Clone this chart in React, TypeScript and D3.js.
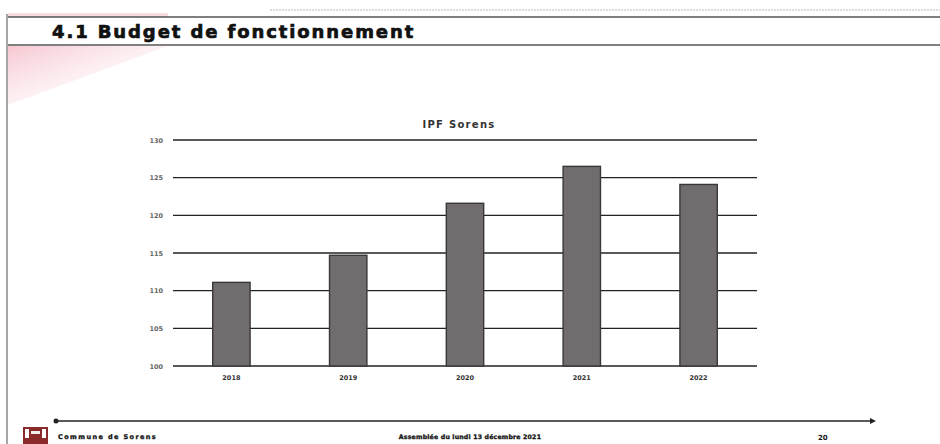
import React from "react";
import { scaleBand, scaleLinear } from "d3";

const years = ["2018", "2019", "2020", "2021", "2022"];
const ipfValues = [111.1, 114.7, 121.6, 126.5, 124.1];
const yTicks = [100, 105, 110, 115, 120, 125, 130];

const chartTitle = "IPF Sorens";
const pageTitle = "4.1 Budget de fonctionnement";
const footerLeft = "Commune de Sorens";
const footerMid = "Assemblée du lundi 13 décembre 2021";
const pageNumber = "20";

export default function App(): JSX.Element {
    const width = 940;
    const height = 444;

    const x = scaleBand().domain(years).range([173, 757]).paddingInner(0.68).paddingOuter(0.34);
    const y = scaleLinear().domain([100, 130]).range([366, 140]);

    const heavy = "'DejaVu Sans', Verdana, sans-serif";

    return (
        <svg width={width} height={height} style={{ position: "absolute", left: 0, top: 0, background: "#fff" }}>
            <defs>
                <linearGradient id="pinkFade" x1="0" y1="0" x2="1" y2="1">
                    <stop offset="0%" stopColor="#f3b3c1" stopOpacity={0.75} />
                    <stop offset="100%" stopColor="#ffffff" stopOpacity={0} />
                </linearGradient>
            </defs>

            {/* page header */}
            <line x1={270} x2={940} y1={10} y2={10} stroke="#bbb" strokeDasharray="2,1" />
            <rect x={8} y={13} width={160} height={4} fill="#f4c3cc" opacity={0.6} />
            <line x1={8} x2={940} y1={17} y2={17} stroke="#555" strokeWidth={1.5} />
            <line x1={8} x2={940} y1={45} y2={45} stroke="#555" strokeWidth={1.5} />
            <line x1={7} x2={7} y1={14} y2={444} stroke="#888" strokeWidth={1.5} />
            <polygon points="8,46 168,46 8,105" fill="url(#pinkFade)" />
            <text
                x={52}
                y={38}
                fontFamily={heavy}
                fontWeight="bold"
                fontSize={18}
                letterSpacing={1.9}
                fill="#111"
                stroke="#111"
                strokeWidth={0.7}
            >
                {pageTitle}
            </text>

            {/* chart */}
            <text x={459} y={128} textAnchor="middle" fontFamily={heavy} fontWeight="bold" fontSize={10} letterSpacing={1.3} fill="#333">
                {chartTitle}
            </text>
            {yTicks.map((t) => (
                <g key={t}>
                    <line x1={173} x2={757} y1={y(t)} y2={y(t)} stroke="#222" strokeWidth={1.3} />
                    <text x={163} y={y(t) + 2.5} textAnchor="end" fontFamily={heavy} fontWeight="bold" fontSize={6.5} fill="#666">
                        {t}
                    </text>
                </g>
            ))}
            {years.map((yr, i) => (
                <g key={yr}>
                    <rect
                        x={x(yr)}
                        y={y(ipfValues[i])}
                        width={x.bandwidth()}
                        height={y(100) - y(ipfValues[i])}
                        fill="#716c6d"
                        stroke="#3a3738"
                        strokeWidth={1.4}
                    />
                    <text
                        x={(x(yr) || 0) + x.bandwidth() / 2}
                        y={380}
                        textAnchor="middle"
                        fontFamily={heavy}
                        fontWeight="bold"
                        fontSize={6.5}
                        fill="#333"
                    >
                        {yr}
                    </text>
                </g>
            ))}

            {/* footer */}
            <line x1={56} x2={873} y1={421} y2={421} stroke="#222" strokeWidth={1.5} />
            <circle cx={56} cy={421} r={2.5} fill="#222" />
            <path d="M870,418 L876,421 L870,424 Z" fill="#222" />
            <g>
                <rect x={23} y={427} width={25} height={17} fill="#8b2a2a" />
                <rect x={25} y={429} width={4} height={9} fill="#fff" />
                <rect x={42} y={429} width={4} height={9} fill="#fff" />
                <rect x={31} y={431} width={9} height={3} fill="#eee" />
            </g>
            <text x={58} y={439} fontFamily={heavy} fontWeight="bold" fontSize={6.5} letterSpacing={1.4} fill="#111" stroke="#111" strokeWidth={0.3}>
                {footerLeft}
            </text>
            <text x={470} y={439} textAnchor="middle" fontFamily={heavy} fontWeight="bold" fontSize={6.2} letterSpacing={0.2} fill="#111" stroke="#111" strokeWidth={0.3}>
                {footerMid}
            </text>
            <text x={818} y={440} fontFamily={heavy} fontWeight="bold" fontSize={7} fill="#111">
                {pageNumber}
            </text>
        </svg>
    );
}
